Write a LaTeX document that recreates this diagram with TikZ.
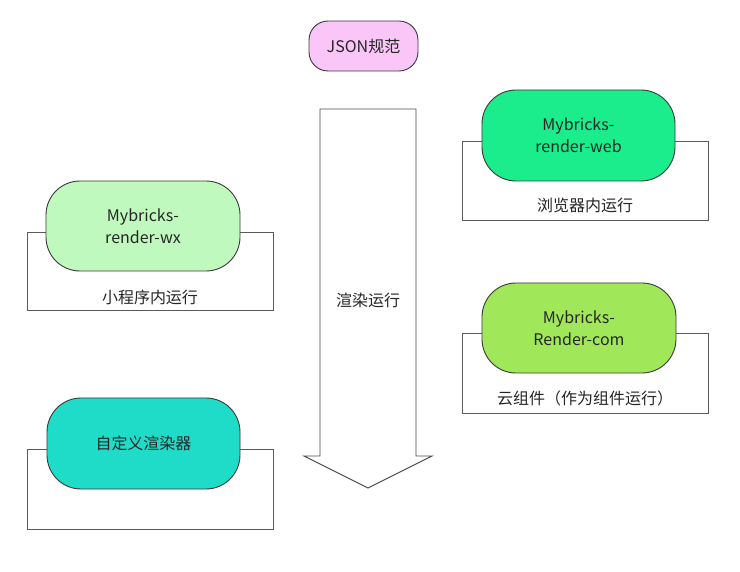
\documentclass[tikz,border=0pt]{standalone}
\usepackage{fontspec}
\setmainfont{Noto Sans CJK SC}
\usetikzlibrary{positioning}
\definecolor{pinkfill}{HTML}{FAC6F8}
\definecolor{wxfill}{HTML}{C0F9BE}
\definecolor{webfill}{HTML}{1BEC8C}
\definecolor{comfill}{HTML}{A0E85A}
\definecolor{cusfill}{HTML}{1EDCC8}
\definecolor{edge}{HTML}{3A3A3A}
\definecolor{boxedge}{HTML}{5A5A5A}
\tikzset{
  pill/.style={draw=edge, line width=0.9pt, rounded corners=34pt},
  smallpill/.style={draw=edge, line width=0.9pt, rounded corners=19pt},
  plainbox/.style={draw=boxedge, line width=0.9pt, fill=white},
  lbl/.style={font=\fontsize{16}{22}\selectfont, text=black!85, align=center, inner sep=0pt},
}
\begin{document}
\begin{tikzpicture}[x=1pt,y=-1pt]
\useasboundingbox (0,0) rectangle (740,572);
\fill[white] (0,0) rectangle (740,572);

% JSON spec
\draw[smallpill, fill=pinkfill] (309,21) rectangle (418,71);
\node[lbl] (json) at (363.5,46) {JSON规范};

% big arrow
\draw[draw=edge!90, line width=0.9pt, fill=white, line join=miter]
  (320,109) -- (416,109) -- (416,456) -- (432,456) -- (368,488) -- (304,456) -- (320,456) -- cycle;
\node[lbl] (run) at (368,300) {渲染运行};

% left: wx
\draw[plainbox] (27,232) rectangle (273,310);
\draw[pill, fill=wxfill] (46,181) rectangle (240,271);
\node[lbl] (wx) at (143,226) {Mybricks-\\render-wx};
\node[lbl] (wxl) at (150,297) {小程序内运行};

% left: custom
\draw[plainbox] (27,449) rectangle (273,529);
\draw[pill, fill=cusfill] (47,398) rectangle (240,489);
\node[lbl] (cus) at (143.5,443.5) {自定义渲染器};

% right: web
\draw[plainbox] (462,141) rectangle (708,220);
\draw[pill, fill=webfill] (482,90) rectangle (675,181);
\node[lbl] (web) at (578.5,135.5) {Mybricks-\\render-web};
\node[lbl] (webl) at (585,205) {浏览器内运行};

% right: com
\draw[plainbox] (462,333) rectangle (708,413);
\draw[pill, fill=comfill] (482,283) rectangle (676,373);
\node[lbl] (com) at (579,328) {Mybricks-\\Render-com};
\node[lbl] (coml) at (585,398) {云组件（作为组件运行）};
\end{tikzpicture}
\end{document}
